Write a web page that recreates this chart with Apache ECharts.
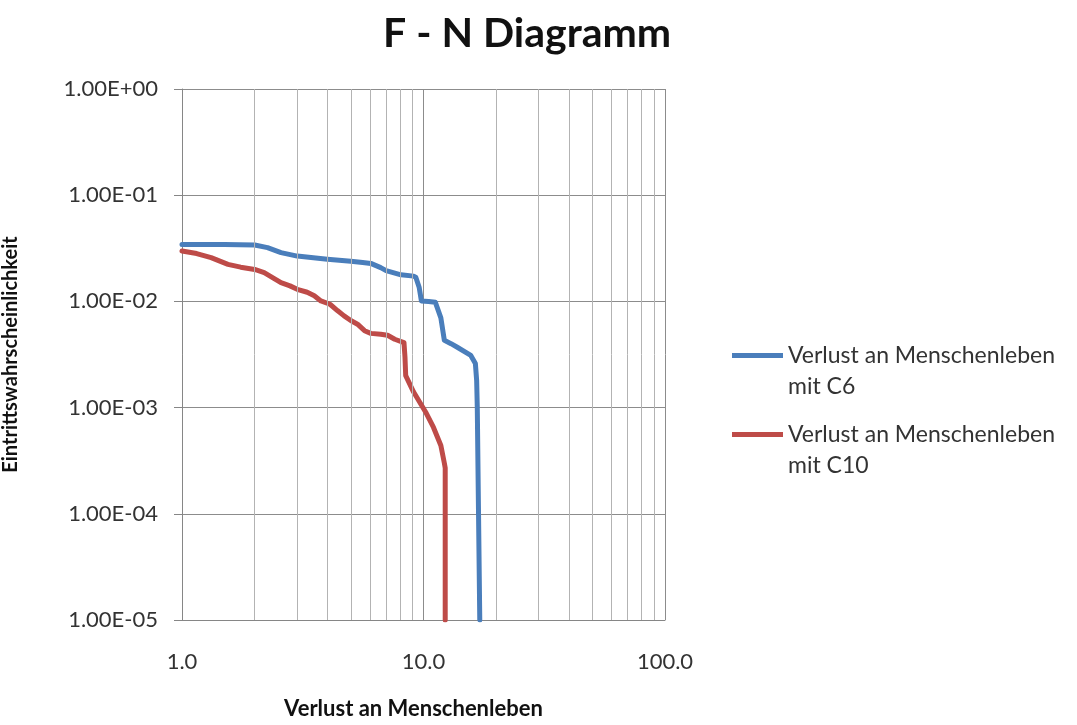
<!DOCTYPE html>
<html>
<head>
<meta charset="utf-8">
<script src="https://cdn.jsdelivr.net/npm/echarts@6/dist/echarts.min.js"></script>
<style>
  html, body { margin: 0; padding: 0; background: #ffffff; }
  #chart { width: 1077px; height: 725px; }
</style>
</head>
<body>
<div id="chart"></div>
<script>
// F-N curve: loss of human life (N) vs. probability of occurrence (F), two scenarios
const seriesNames = ['Verlust an Menschenleben mit C6', 'Verlust an Menschenleben mit C10'];

const xC6 = [1.0, 1.5, 2.0, 2.26, 2.57, 3.0, 3.5, 4.0, 5.0, 5.6, 6.05, 6.65, 7.0, 8.07, 9.1, 9.3, 9.6, 9.8, 10.5, 11.2, 11.8, 12.2, 13.0, 13.8, 15.7, 16.4, 16.6, 16.7, 16.9, 17.1];
const yC6 = [0.0344, 0.0344, 0.0340, 0.0321, 0.0288, 0.0267, 0.0258, 0.0250, 0.0239, 0.0232, 0.0228, 0.0208, 0.0195, 0.0178, 0.0173, 0.0168, 0.0135, 0.0101, 0.0100, 0.0098, 0.0070, 0.0043, 0.0040, 0.0037, 0.0031, 0.0026, 0.0018, 0.0010, 0.0001, 0.00001];

const xC10 = [1.0, 1.15, 1.32, 1.55, 1.75, 2.0, 2.19, 2.4, 2.57, 2.8, 3.0, 3.3, 3.53, 3.76, 4.1, 4.4, 4.69, 5.0, 5.33, 5.7, 6.05, 6.65, 7.1, 7.6, 8.3, 8.38, 8.44, 9.1, 10.2, 11.0, 11.8, 12.2, 12.3, 12.3];
const yC10 = [0.0298, 0.0282, 0.0258, 0.0223, 0.0210, 0.0200, 0.0187, 0.0165, 0.0150, 0.0140, 0.0130, 0.0122, 0.0113, 0.0101, 0.0094, 0.0082, 0.0073, 0.0066, 0.0061, 0.0053, 0.0050, 0.0049, 0.0048, 0.0044, 0.0041, 0.0030, 0.0020, 0.0014, 0.00091, 0.00065, 0.00044, 0.00030, 0.00027, 0.00001];

// axis ticks and their printed labels
const xTickValues = [1, 10, 100];
const xTickLabels = ['1.0', '10.0', '100.0'];
const yTickValues = [1e-5, 1e-4, 1e-3, 1e-2, 1e-1, 1];
const yTickLabels = ['1.00E-05', '1.00E-04', '1.00E-03', '1.00E-02', '1.00E-01', '1.00E+00'];

// intermediate log gridlines (2..9 in each decade)
const xMinorGrid = [2, 3, 4, 5, 6, 7, 8, 9, 20, 30, 40, 50, 60, 70, 80, 90];

const COLOR_C6 = '#4a7ebb';
const COLOR_C10 = '#be4b48';
const FONT = 'Lato, "Open Sans", sans-serif';

function pairs(xs, ys) {
  return xs.map((x, i) => [x, ys[i]]);
}
function lookup(values, labels, v) {
  const i = values.findIndex(t => Math.abs(Math.log10(t) - Math.log10(v)) < 1e-6);
  return i >= 0 ? labels[i] : '';
}

const chart = echarts.init(document.getElementById('chart'), null, { renderer: 'canvas' });

chart.setOption({
  animation: false,
  backgroundColor: '#ffffff',
  title: {
    text: 'F - N Diagramm',
    left: 378,
    top: 8,
    textStyle: { fontFamily: FONT, fontSize: 41, fontWeight: 'bold', color: '#111111' }
  },
  legend: {
    data: seriesNames,
    orient: 'vertical',
    left: 727,
    top: 304,
    icon: 'rect',
    itemWidth: 51,
    itemHeight: 5,
    itemGap: -14,
    // leading blank line keeps the key line level with the first text line
    formatter: name => '\n' + name.replace(' mit ', '\nmit '),
    textStyle: {
      fontFamily: FONT,
      fontSize: 23,
      color: '#333333',
      lineHeight: 31
    }
  },
  grid: { left: 181, right: 412, top: 89, bottom: 103 },
  xAxis: {
    type: 'log',
    logBase: 10,
    min: 1,
    max: 100,
    name: 'Verlust an Menschenleben',
    nameLocation: 'middle',
    nameGap: 78,
    nameTextStyle: { fontFamily: FONT, fontSize: 22, fontWeight: 'bold', color: '#111111', padding: [0, 20, 0, 0] },
    axisLine: { lineStyle: { color: '#868686', width: 1 } },
    axisTick: { show: false },
    axisLabel: {
      margin: 31,
      fontFamily: FONT,
      fontSize: 22,
      color: '#333333',
      formatter: v => lookup(xTickValues, xTickLabels, v)
    },
    splitLine: { show: true, lineStyle: { color: '#8c8c8c', width: 1 } }
  },
  yAxis: {
    type: 'log',
    logBase: 10,
    min: 1e-5,
    max: 1,
    name: 'Eintrittswahrscheinlichkeit',
    nameLocation: 'middle',
    nameGap: 161,
    nameTextStyle: { fontFamily: FONT, fontSize: 20, fontWeight: 'bold', color: '#111111' },
    axisLine: { show: true, lineStyle: { color: '#868686', width: 1 } },
    axisTick: { show: true, inside: false, length: 8, lineStyle: { color: '#868686' } },
    axisLabel: {
      margin: 24,
      fontFamily: FONT,
      fontSize: 22,
      color: '#333333',
      formatter: v => lookup(yTickValues, yTickLabels, v)
    },
    splitLine: { show: true, lineStyle: { color: '#8c8c8c', width: 1 } }
  },
  series: [
    {
      name: 'minor-grid',
      type: 'line',
      data: [],
      silent: true,
      z: 1,
      markLine: {
        silent: true,
        symbol: ['none', 'none'],
        label: { show: false },
        emphasis: { disabled: true },
        lineStyle: { color: '#b3b3b3', width: 1, type: 'solid' },
        data: xMinorGrid.map(v => ({ xAxis: v }))
      }
    },
    {
      name: seriesNames[0],
      type: 'line',
      data: pairs(xC6, yC6),
      showSymbol: false,
      symbol: 'none',
      z: 3,
      color: COLOR_C6,
      lineStyle: { color: COLOR_C6, width: 5, cap: 'round', join: 'round' }
    },
    {
      name: seriesNames[1],
      type: 'line',
      data: pairs(xC10, yC10),
      showSymbol: false,
      symbol: 'none',
      z: 3,
      color: COLOR_C10,
      lineStyle: { color: COLOR_C10, width: 5, cap: 'round', join: 'round' }
    }
  ]
});
</script>
</body>
</html>
